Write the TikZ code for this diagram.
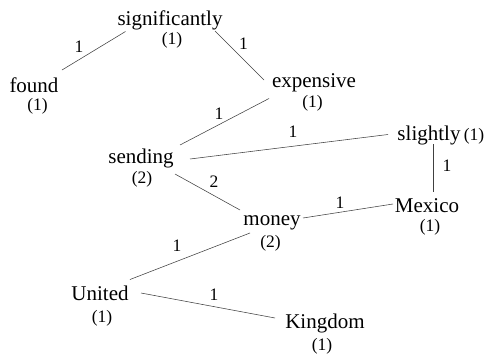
\documentclass[tikz,border=0pt]{standalone}
\usepackage{fontspec}
\setmainfont{Liberation Serif}
\begin{document}
\begin{tikzpicture}[x=1pt,y=1pt,
  word/.style={font=\fontsize{21}{24}\selectfont, inner sep=0pt, anchor=base},
  cnt/.style={font=\fontsize{17.5}{20}\selectfont, inner sep=0pt, anchor=base},
  wgt/.style={font=\fontsize{17.5}{20}\selectfont, inner sep=0pt, anchor=base},
  edge/.style={draw=black!75, line width=0.55pt}]
\useasboundingbox (0,0) rectangle (485,-359);
% words
\node[word] (sig)    at (170,-25)  {significantly};
\node[word] (found)  at (34,-92)   {found};
\node[word] (exp)    at (314,-87)  {expensive};
\node[word] (send)   at (141,-163) {sending};
\node[word] (sli)    at (429,-140) {slightly};
\node[word] (money)  at (272,-225) {money};
\node[word] (mex)    at (427,-212) {Mexico};
\node[word] (united) at (100,-300) {United};
\node[word] (king)   at (325,-328) {Kingdom};
% counts
\node[cnt] (sigc)    at (172,-44.5)  {(1)};
\node[cnt] (foundc)  at (37.5,-110.5){(1)};
\node[cnt] (expc)    at (312.5,-107) {(1)};
\node[cnt] (sendc)   at (142,-183.5) {(2)};
\node[cnt] (slic)    at (474,-140)   {(1)};
\node[cnt] (moneyc)  at (270.5,-247) {(2)};
\node[cnt] (mexc)    at (430,-231)   {(1)};
\node[cnt] (unitedc) at (102,-322)   {(1)};
\node[cnt] (kingc)   at (322,-350)   {(1)};
% edges
\draw[edge] ([shift={(-44.5,-6.5)}]sig.base) -- ([shift={(28,22)}]found.base);
\draw[edge] ([shift={(45,-6)}]sig.base) -- ([shift={(-50,7)}]exp.base);
\draw[edge] ([shift={(-45,-11.5)}]exp.base) -- ([shift={(39,18)}]send.base);
\draw[edge] ([shift={(49,4)}]send.base) -- ([shift={(-41,5.5)}]sli.base);
\draw[edge] ([shift={(4,-4)}]sli.base) -- ([shift={(6,20)}]mex.base);
\draw[edge] ([shift={(34,-11)}]send.base) -- ([shift={(-32,15)}]money.base);
\draw[edge] ([shift={(31,7)}]money.base) -- ([shift={(-34,8)}]mex.base);
\draw[edge] ([shift={(-22,-8)}]money.base) -- ([shift={(30,20.5)}]united.base);
\draw[edge] ([shift={(41,7)}]united.base) -- ([shift={(-50,10)}]king.base);
% weights
\node[wgt] (w1) at (79,-52)    {1};
\node[wgt] (w2) at (243.5,-49) {1};
\node[wgt] (w3) at (219,-119)  {1};
\node[wgt] (w4) at (293,-137)  {1};
\node[wgt] (w5) at (447,-171)  {1};
\node[wgt] (w6) at (214,-187)  {2};
\node[wgt] (w7) at (340,-208)  {1};
\node[wgt] (w8) at (177,-251)  {1};
\node[wgt] (w9) at (214,-300)  {1};
\end{tikzpicture}
\end{document}
